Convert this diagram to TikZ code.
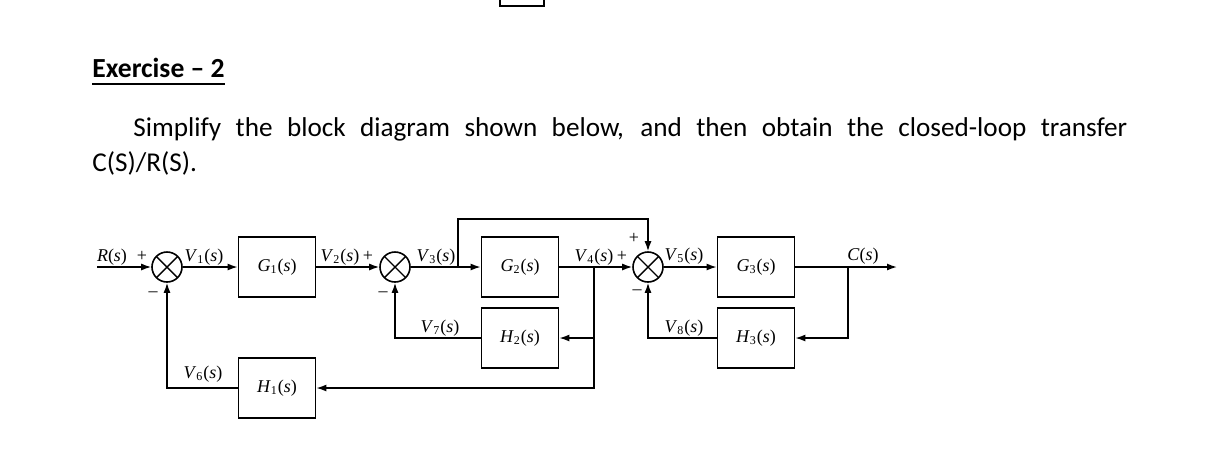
\documentclass[tikz,border=0pt]{standalone}
\usepackage{fontspec}
\setmainfont{Carlito}
\newfontfamily\dgfont{Liberation Serif}
\usetikzlibrary{arrows.meta,calc}

\newcommand{\tfn}[2]{\textit{#1}\textsubscript{#2}(\textit{s})}

\tikzset{
  blk/.style={draw,line width=0.9pt,minimum width=38.5pt,minimum height=30pt,
    inner sep=0pt,font=\dgfont\fontsize{9}{10}\selectfont},
  sumx/.style={draw,circle,line width=0.8pt,minimum size=15pt,inner sep=0pt,
    path picture={\draw[line width=0.7pt]
      (path picture bounding box.north west) -- (path picture bounding box.south east)
      (path picture bounding box.south west) -- (path picture bounding box.north east);}},
  lbl/.style={anchor=base,inner sep=0pt,font=\dgfont\fontsize{9}{10}\selectfont},
  txt/.style={anchor=base west,inner sep=0pt,font=\fontsize{13.6}{16}\selectfont},
  wire/.style={line width=0.7pt},
  arr/.style={wire,-{Latex[length=5pt,width=3.5pt]}}
}

\begin{document}
\begin{tikzpicture}[x=0.5pt,y=-0.5pt]
  \useasboundingbox (0,0) rectangle (1216,463);

  % page header
  \draw[line width=0.6pt] (500,-2) -- (500,6) -- (544,6) -- (544,-2);
  \node[txt,font=\bfseries\fontsize{13.8}{16}\selectfont]
    (title) at (92,77) {Exercise – 2};
  \draw[line width=1.1pt] ($(title.base west)+(0,7)$) -- ($(title.base east)+(0,7)$);
  \node[txt] (text1) at (133,136.5)
    {\makebox[497pt][s]{Simplify the block diagram shown below, and then obtain the closed-loop transfer}};
  \node[txt] (text2) at (92,171.5) {C(S)/R(S).};

  % summing points
  \node[sumx] (s1) at (167,267) {};
  \node[sumx] (s2) at (395,267) {};
  \node[sumx] (s3) at (648,267) {};

  % blocks
  \node[blk] (g1) at (277,267) {\tfn{G}{1}};
  \node[blk] (h1) at (277,388) {\tfn{H}{1}};
  \node[blk] (g2) at (520,267) {\tfn{G}{2}};
  \node[blk] (h2) at (520,338) {\tfn{H}{2}};
  \node[blk] (g3) at (756,267) {\tfn{G}{3}};
  \node[blk] (h3) at (756,338) {\tfn{H}{3}};

  % branch points
  \coordinate (in) at (97,267);
  \coordinate (b1) at (458,267);
  \coordinate (b2) at (594,267);
  \coordinate (b3) at (848,267);
  \coordinate (out) at (897,267);

  % forward path
  \draw[arr] (in) -- (s1);
  \draw[arr] (s1) -- (g1);
  \draw[arr] (g1) -- (s2);
  \draw[arr] (s2) -- (g2);
  \draw[arr] (b1) -- (458,219) -| (s3);
  \draw[arr] (g2) -- (s3);
  \draw[arr] (s3) -- (g3);
  \draw[arr] (g3) -- (out);

  % feedback paths
  \draw[arr] (b2) |- (h1);
  \draw[arr] (b2 |- h2) -- (h2);
  \draw[arr] (h1) -| (s1);
  \draw[arr] (h2) -| (s2);
  \draw[arr] (b3) |- (h3);
  \draw[arr] (h3) -| (s3);

  % signal labels
  \node[lbl] (lr) at (112,261) {\textit{R}(\textit{s})};
  \node[lbl] (lv1) at (204,261) {\tfn{V}{1}};
  \node[lbl] (lv2) at (340,261) {\tfn{V}{2}};
  \node[lbl] (lv3) at (436,261) {\tfn{V}{3}};
  \node[lbl] (lv4) at (594,261) {\tfn{V}{4}};
  \node[lbl] (lv5) at (684,260) {\tfn{V}{5}};
  \node[lbl] (lv6) at (203,378) {\tfn{V}{6}};
  \node[lbl] (lv7) at (440,332) {\tfn{V}{7}};
  \node[lbl] (lv8) at (684,332) {\tfn{V}{8}};
  \node[lbl] (lc) at (863,260) {\textit{C}(\textit{s})};

  % signs
  \node[lbl] (p1) at (142,261) {+};
  \node[lbl] (p2) at (368,261) {+};
  \node[lbl] (p3) at (622,261) {+};
  \node[lbl] (p4) at (634,243) {+};
  \node[lbl] (m1) at (153,296) {–};
  \node[lbl] (m2) at (383,296) {–};
  \node[lbl] (m3) at (637,294) {–};
\end{tikzpicture}
\end{document}
